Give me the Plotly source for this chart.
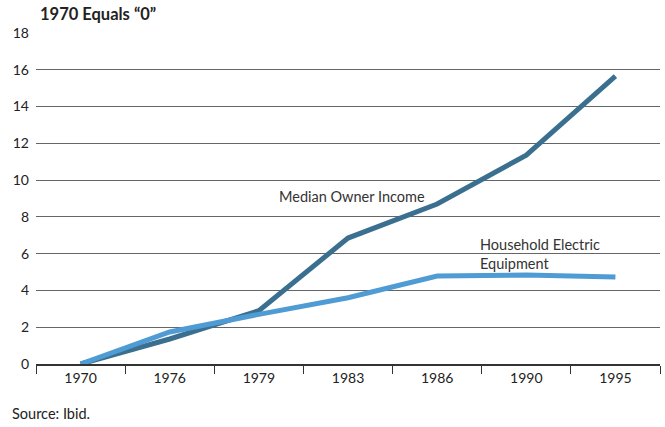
import plotly.graph_objects as go

years = ["1970", "1976", "1979", "1983", "1986", "1990", "1995"]
median_owner_income = [0, 1.36, 2.9, 6.85, 8.7, 11.36, 15.65]
household_electric = [0, 1.74, 2.7, 3.6, 4.78, 4.84, 4.73]
y_ticks = [0, 2, 4, 6, 8, 10, 12, 14, 16, 18]

FONT = "Lato, 'Open Sans', sans-serif"

W, H = 665, 427
L, R, T, B = 36, 5, 33, 63
pw, ph = W - L - R, H - T - B


def px2paper(px, py):
    return (px - L) / pw, 1 - (py - T) / ph


fig = go.Figure()
fig.add_trace(go.Scatter(x=years, y=median_owner_income, mode="lines",
                         line=dict(color="#3b6f90", width=5), name="Median Owner Income"))
fig.add_trace(go.Scatter(x=years, y=household_electric, mode="lines",
                         line=dict(color="#4f9bd4", width=5), name="Household Electric Equipment"))

fig.add_annotation(x=2.2, y=9.1, xref="x", yref="y", text="Median Owner Income",
                   showarrow=False, xanchor="left", yanchor="middle",
                   font=dict(family=FONT, size=14.5, color="#333"))
fig.add_annotation(x=4.46, y=6.0, xref="x", yref="y", text="Household Electric<br>Equipment",
                   showarrow=False, xanchor="left", yanchor="middle", align="left",
                   font=dict(family=FONT, size=14.5, color="#333"))
tx, ty = px2paper(38, 14)
fig.add_annotation(x=tx, y=ty, xref="paper", yref="paper", text="<b>1970 Equals “0”</b>",
                   showarrow=False, xanchor="left", yanchor="middle",
                   font=dict(family=FONT, size=16.5, color="#222"))
sx, sy = px2paper(10, 413)
fig.add_annotation(x=sx, y=sy, xref="paper", yref="paper", text="Source: Ibid.",
                   showarrow=False, xanchor="left", yanchor="middle",
                   font=dict(family=FONT, size=14.5, color="#222"))

fig.update_layout(
    width=W, height=H,
    margin=dict(l=L, r=R, t=T, b=B),
    paper_bgcolor="white", plot_bgcolor="white",
    showlegend=False,
    font=dict(family=FONT, size=13, color="#222"),
)
fig.update_xaxes(type="category", range=[-0.5, 6.5], tickson="boundaries",
                 ticks="outside", ticklen=8, tickcolor="#333", showgrid=False,
                 showline=True, linecolor="#333", linewidth=1.5,
                 tickfont=dict(family=FONT, size=14, color="#222"))
fig.update_yaxes(range=[0, 18], tickvals=y_ticks, showgrid=True, gridcolor="#666",
                 gridwidth=1, zeroline=False, showline=False, ticks="",
                 ticklabelstandoff=6,
                 tickfont=dict(family=FONT, size=14, color="#222"))

fig.write_html("out.html")
